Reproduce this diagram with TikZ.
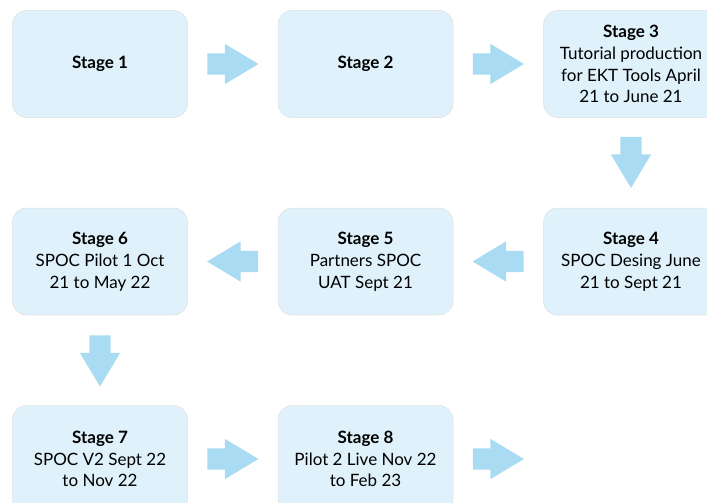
\documentclass[tikz,border=0pt]{standalone}
\usepackage{fontspec}
\setmainfont{Lato}
\usetikzlibrary{positioning,shapes.arrows,calc}

\definecolor{boxblue}{HTML}{DFF1FB}
\definecolor{arrowblue}{HTML}{A9DBF2}

\begin{document}
\begin{tikzpicture}[x=1pt,y=1pt,
  stage/.style={draw=gray!25, line width=0.5pt, fill=boxblue, rounded corners=14pt,
    minimum width=175pt, minimum height=107pt, align=center, inner sep=2pt,
    font=\fontsize{17}{21.8}\selectfont},
  blockarrow/.style={single arrow, fill=arrowblue, draw=none, minimum height=51pt,
    single arrow head extend=9.5pt, single arrow tip angle=62,
    inner xsep=0pt, inner ysep=10.5pt, anchor=tail}]
  \useasboundingbox (0,0) rectangle (707,-503);
  \clip (0,0) rectangle (707,-503);
  % first row
  \node[stage] (s1) at (100,-64) {\textbf{Stage 1}};
  \node[stage, right=90pt of s1] (s2) {\textbf{Stage 2}};
  \node[stage, right=90pt of s2] (s3) {\textbf{Stage 3}\\Tutorial production\\for EKT Tools April\\21 to June 21};
  % second row
  \node[stage, below=90pt of s3] (s4) {\textbf{Stage 4}\\SPOC Desing June\\21 to Sept 21};
  \node[stage, left=90pt of s4] (s5) {\textbf{Stage 5}\\Partners SPOC\\UAT Sept 21};
  \node[stage, left=90pt of s5] (s6) {\textbf{Stage 6}\\SPOC Pilot 1 Oct\\21 to May 22};
  % third row
  \node[stage, below=90pt of s6] (s7) {\textbf{Stage 7}\\SPOC V2 Sept 22\\to Nov 22};
  \node[stage, right=90pt of s7] (s8) {\textbf{Stage 8}\\Pilot 2 Live Nov 22\\to Feb 23};
  % arrows, placed by their tails
  \node[blockarrow] (a12) at ($(s1.east)+(19.5,0)$) {};
  \node[blockarrow] (a23) at ($(s2.east)+(19.5,0)$) {};
  \node[blockarrow, rotate=-90] (a34) at ($(s3.south)+(0,-19)$) {};
  \node[blockarrow, rotate=180] (a45) at ($(s4.west)+(-19.5,0)$) {};
  \node[blockarrow, rotate=180] (a56) at ($(s5.west)+(-19.5,0)$) {};
  \node[blockarrow, rotate=-90] (a67) at ($(s6.south)+(0,-20)$) {};
  \node[blockarrow] (a78) at ($(s7.east)+(19.5,0)$) {};
  \node[blockarrow] (a89) at ($(s8.east)+(19.5,0)$) {};
\end{tikzpicture}
\end{document}
